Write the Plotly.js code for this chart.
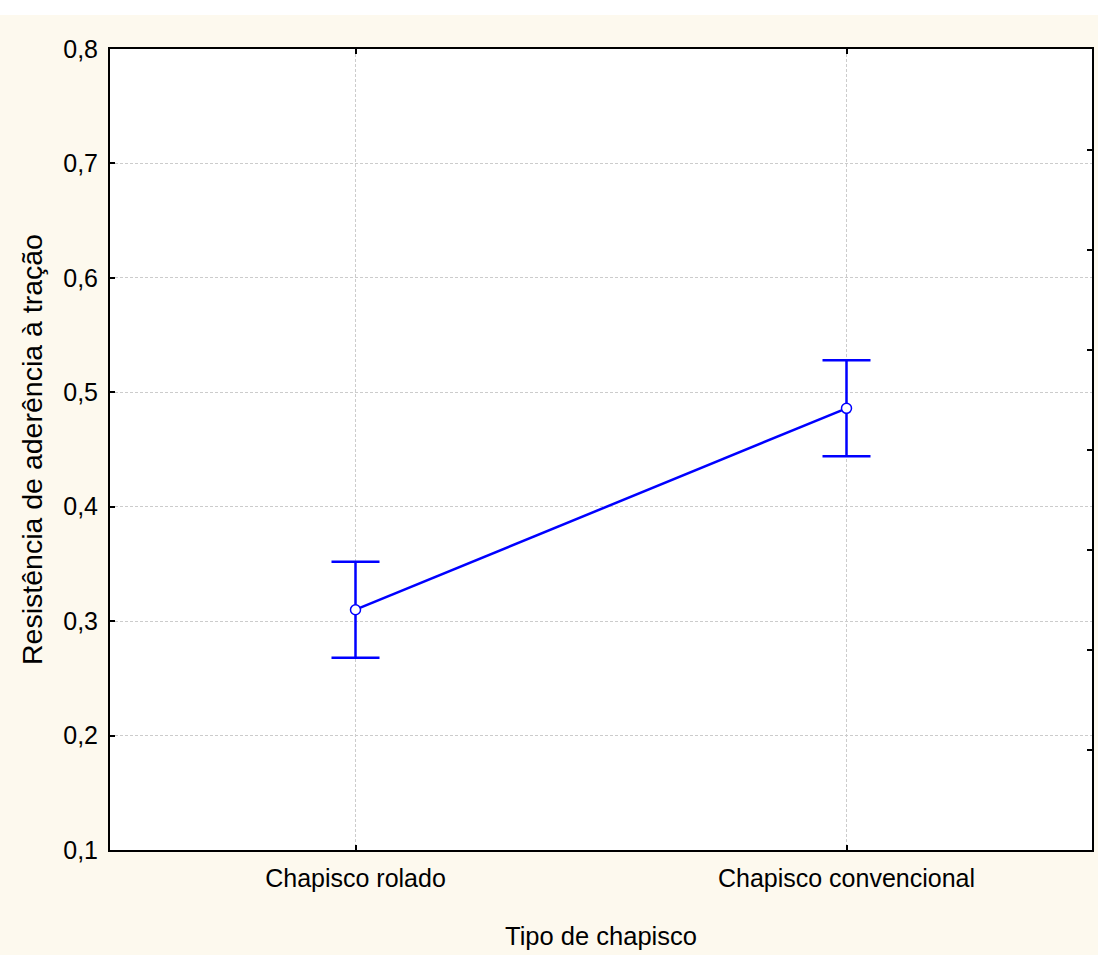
<!DOCTYPE html>
<html>
<head>
<meta charset="utf-8">
<script src="https://cdn.plot.ly/plotly-3.0.1.min.js"></script>
<style>html,body{margin:0;padding:0;background:#ffffff;}#chart{width:1098px;height:955px;}</style>
</head>
<body>
<div id="chart"></div>
<script>
const categories = ['Chapisco rolado', 'Chapisco convencional'];
const means = [0.310, 0.486];
const errors = [0.042, 0.042];
const yTickValues = [0.1, 0.2, 0.3, 0.4, 0.5, 0.6, 0.7, 0.8];
const rightTickValues = [0, 1, 2, 3, 4, 5, 6, 7, 8];

const blue = '#0000FF';
const regular = '"Liberation Sans", Arial, sans-serif';

const traces = [
  {
    type: 'scatter', mode: 'lines+markers',
    x: categories, y: means,
    line: {color: blue, width: 2.5},
    marker: {symbol: 'circle', size: 10, color: '#ffffff', line: {color: blue, width: 1.5}},
    error_y: {type: 'data', array: errors, visible: true, color: blue, thickness: 2.5, width: 24},
    showlegend: false, hoverinfo: 'skip'
  },
  {
    type: 'scatter', mode: 'markers', x: [], y: [], yaxis: 'y2',
    showlegend: false, hoverinfo: 'skip'
  }
];

const layout = {
  width: 1098, height: 955,
  paper_bgcolor: '#ffffff',
  plot_bgcolor: '#ffffff',
  separators: ', ',
  margin: {l: 110, r: 6, t: 49, b: 105, pad: 0},
  showlegend: false,
  shapes: [{
    type: 'rect', layer: 'below', xref: 'paper', yref: 'paper',
    x0: -110/982, x1: 6/982 + 1, y0: -105/801, y1: 1 + 34/801,
    fillcolor: '#FDF9EE', line: {width: 0}
  }, {
    type: 'rect', layer: 'below', xref: 'paper', yref: 'paper',
    x0: 0, x1: 1, y0: 0, y1: 1,
    fillcolor: '#ffffff', line: {width: 0}
  }],
  xaxis: {
    type: 'category', range: [-0.5, 1.5],
    showline: true, linecolor: '#000000', linewidth: 2, mirror: 'ticks',
    ticks: 'inside', ticklen: 5, tickwidth: 2, tickcolor: '#000000',
    ticklabelstandoff: 5,
    showgrid: true, gridcolor: '#cccccc', griddash: '3px,2px', gridwidth: 1,
    zeroline: false,
    tickfont: {family: regular, size: 25, color: '#000000'},
    title: {text: 'Tipo de chapisco', font: {family: regular, size: 25.5, color: '#000000'}, standoff: 36}
  },
  yaxis: {
    range: [0.1, 0.8], tickvals: yTickValues, tickformat: '.1f',
    showline: true, linecolor: '#000000', linewidth: 2, mirror: false,
    ticks: 'inside', ticklen: 5, tickwidth: 2, tickcolor: '#000000',
    ticklabelstandoff: 5,
    showgrid: true, gridcolor: '#cccccc', griddash: '3px,2px', gridwidth: 1,
    zeroline: false,
    tickfont: {family: regular, size: 25, color: '#000000'},
    title: {text: 'Resistência de aderência à tração', font: {family: regular, size: 28.5, color: '#000000'}, standoff: 12}
  },
  yaxis2: {
    overlaying: 'y', side: 'right', range: [0, 8.01], tickvals: rightTickValues,
    showline: true, linecolor: '#000000', linewidth: 2,
    ticks: 'inside', ticklen: 5, tickwidth: 2, tickcolor: '#000000',
    showticklabels: false, showgrid: false, zeroline: false
  }
};

Plotly.newPlot('chart', traces, layout, {displayModeBar: false, staticPlot: true});
</script>
</body>
</html>
